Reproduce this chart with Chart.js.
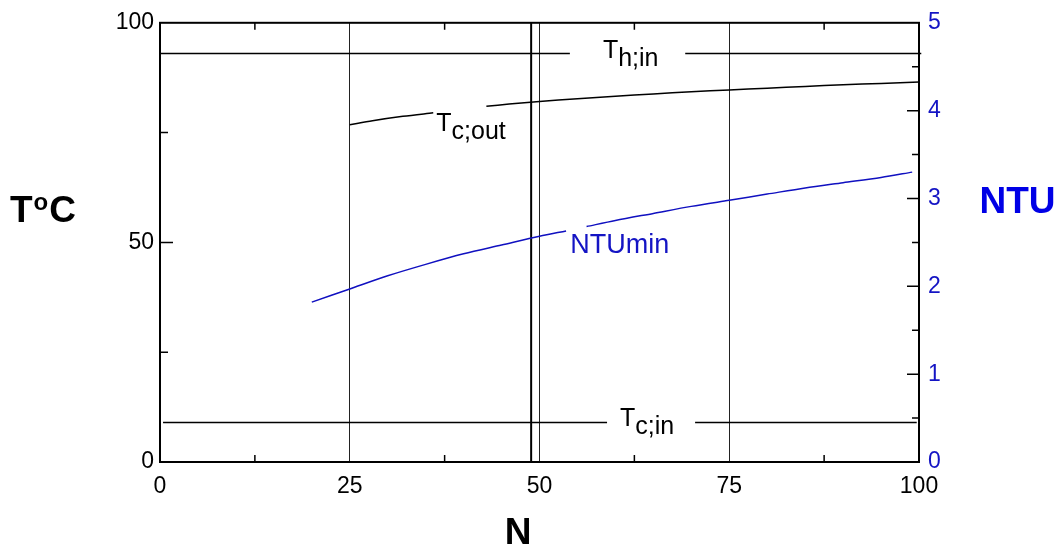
<!DOCTYPE html>
<html>
<head>
<meta charset="utf-8">
<script src="https://cdn.jsdelivr.net/npm/chart.js@4.4.1/dist/chart.umd.min.js"></script>
<style>
  html, body { margin: 0; padding: 0; background: #fff; }
  canvas { display: block; }
</style>
</head>
<body>
<canvas id="chart" width="1064" height="550"></canvas>
<script>
// hot inlet temperature (null = gap for label)
const thInN = [0, 54.0, 61, 69.2, 100.3];
const thIn = [93, 93, null, 93, 93];

// cold inlet temperature
const tcInN = [0.4, 58.9, 65, 70.5, 99.7];
const tcIn = [9, 9, null, 9, 9];

// cold outlet temperature vs N
const tcOutN = [25, 28, 32, 36, 39, 43, 46, 50, 55, 60, 65, 70, 75, 80, 85, 90, 95, 100];
const tcOut = [76.8, 77.7, 78.7, 79.5, null, 81.0, 81.5, 82.1, 82.7, 83.3, 83.8, 84.3, 84.7, 85.1, 85.5, 85.9, 86.2, 86.5];

// minimum NTU vs N
const ntuN = [20, 25, 30, 35, 40, 45, 50, 53.5, 55, 56.2, 60, 65, 70, 75, 80, 85, 90, 95, 99.1];
const ntuMin = [1.82, 1.97, 2.12, 2.25, 2.37, 2.47, 2.57, 2.63, null, 2.68, 2.75, 2.83, 2.91, 2.98, 3.05, 3.12, 3.18, 3.24, 3.30];

// marker line near N = 49
const markN = [48.9, 48.9];
const markT = [0, 100];

// axis tick positions
const xMinorTicks = [12.5, 37.5, 62.5, 87.5];
const tMajorTicks = [50];
const tMinorTicks = [25, 75];
const ntuMajorTicks = [1, 2, 3, 4];
const ntuMinorTicks = [0.5, 1.5, 2.5, 3.5, 4.5];

const FONT = "'Liberation Sans', Arial, sans-serif";
const BLUE = '#1414c4';

function pts(xs, ys) {
  return xs.map((x, i) => ({ x: x, y: ys[i] }));
}

// frame, inward tick marks, curve labels and axis titles
const decorations = {
  id: 'decorations',
  afterDatasetsDraw(chart) {
    const ctx = chart.ctx;
    const a = chart.chartArea;
    const { x, y, y2 } = chart.scales;
    ctx.save();
    ctx.strokeStyle = '#000';
    ctx.lineWidth = 2;
    ctx.strokeRect(a.left, a.top, a.right - a.left, a.bottom - a.top);

    ctx.lineWidth = 1.5;
    ctx.beginPath();
    xMinorTicks.forEach(v => {
      const px = x.getPixelForValue(v);
      ctx.moveTo(px, a.bottom); ctx.lineTo(px, a.bottom - 7);
      ctx.moveTo(px, a.top); ctx.lineTo(px, a.top + 7);
    });
    tMajorTicks.forEach(v => {
      const py = y.getPixelForValue(v);
      ctx.moveTo(a.left, py); ctx.lineTo(a.left + 13, py);
    });
    tMinorTicks.forEach(v => {
      const py = y.getPixelForValue(v);
      ctx.moveTo(a.left, py); ctx.lineTo(a.left + 8, py);
    });
    ntuMajorTicks.forEach(v => {
      const py = y2.getPixelForValue(v);
      ctx.moveTo(a.right, py); ctx.lineTo(a.right - 12, py);
    });
    ntuMinorTicks.forEach(v => {
      const py = y2.getPixelForValue(v);
      ctx.moveTo(a.right, py); ctx.lineTo(a.right - 7, py);
    });
    ctx.stroke();

    // curve labels with subscripts
    function subLabel(main, sub, px, py) {
      ctx.font = '25px ' + FONT;
      ctx.fillStyle = '#000';
      ctx.textAlign = 'left';
      ctx.textBaseline = 'alphabetic';
      ctx.fillText(main, px, py);
      const w = ctx.measureText(main).width;
      ctx.fillText(sub, px + w, py + 8);
    }
    subLabel('T', 'h;in', x.getPixelForValue(58.35), y.getPixelForValue(93) + 4);
    subLabel('T', 'c;in', x.getPixelForValue(60.6), y.getPixelForValue(9) + 4);
    subLabel('T', 'c;out', x.getPixelForValue(36.4), y.getPixelForValue(75.3));

    ctx.font = '27px ' + FONT;
    ctx.fillStyle = BLUE;
    ctx.fillText('NTUmin', x.getPixelForValue(54.05), y2.getPixelForValue(2.385));

    // axis titles
    ctx.font = 'bold 37px ' + FONT;
    ctx.fillStyle = '#000';
    ctx.textAlign = 'left';
    const ty = 221.5;
    ctx.fillText('T', 10, ty);
    const tw = ctx.measureText('T').width;
    ctx.font = 'bold 24px ' + FONT;
    ctx.fillText('o', 10 + tw + 1, ty - 12);
    const ow = ctx.measureText('o').width;
    ctx.font = 'bold 37px ' + FONT;
    ctx.fillText('C', 10 + tw + ow + 2, ty);

    ctx.textAlign = 'center';
    ctx.fillText('N', 518, 544);
    ctx.fillStyle = '#0000e6';
    ctx.fillText('NTU', 1017.5, 212.5);
    ctx.restore();
  }
};

new Chart(document.getElementById('chart'), {
  type: 'line',
  data: {
    datasets: [
      { data: pts(thInN, thIn), borderColor: '#000', borderWidth: 1.5, clip: false, yAxisID: 'y' },
      { data: pts(tcInN, tcIn), borderColor: '#000', borderWidth: 1.5, yAxisID: 'y' },
      { data: pts(tcOutN, tcOut), borderColor: '#000', borderWidth: 1.5, tension: 0.3, yAxisID: 'y' },
      { data: pts(ntuN, ntuMin), borderColor: '#1010c0', borderWidth: 1.5, tension: 0.3, yAxisID: 'y2' },
      { data: pts(markN, markT), borderColor: '#000', borderWidth: 2, yAxisID: 'y' }
    ]
  },
  options: {
    responsive: false,
    devicePixelRatio: 1,
    animation: false,
    spanGaps: false,
    elements: { point: { radius: 0 } },
    layout: { padding: { top: 21, left: 0, right: 0, bottom: 0 } },
    plugins: { legend: { display: false }, tooltip: { enabled: false } },
    scales: {
      x: {
        type: 'linear',
        min: 0, max: 100,
        afterFit: s => { s.height = 88; },
        border: { display: false },
        grid: { color: '#222', lineWidth: 1, drawTicks: false },
        ticks: { stepSize: 25, padding: 11, color: '#000', font: { family: FONT, size: 23 } }
      },
      y: {
        position: 'left',
        min: 0, max: 100,
        afterFit: s => { s.width = 160; },
        border: { display: false },
        grid: { display: false, drawTicks: false },
        ticks: { stepSize: 50, padding: 6, color: '#000', font: { family: FONT, size: 23 } }
      },
      y2: {
        position: 'right',
        min: 0, max: 5,
        afterFit: s => { s.width = 145; },
        border: { display: false },
        grid: { display: false, drawTicks: false },
        ticks: { stepSize: 1, padding: 9, color: BLUE, font: { family: FONT, size: 23 } }
      }
    }
  },
  plugins: [decorations]
});
</script>
</body>
</html>
